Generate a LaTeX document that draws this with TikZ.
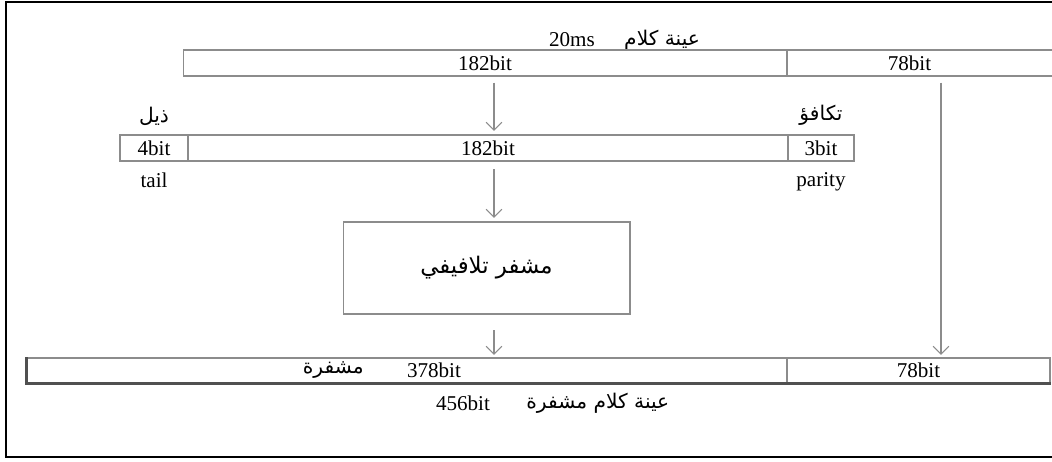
\documentclass[tikz,border=0pt]{standalone}
\usepackage{fontspec}
\setmainfont{Liberation Serif}
\newfontfamily\arabicfont[Script=Arabic]{DejaVu Sans}
\TeXXeTstate=1
\usepackage{tikz}
\usetikzlibrary{arrows.meta,positioning}
\definecolor{boxline}{HTML}{8C8C8C}
\definecolor{darkline}{HTML}{505050}

\begin{document}
\begin{tikzpicture}[x=0.02cm,y=-0.02cm,
          every node/.style={font=\fontsize{12}{14}\selectfont},
          cell/.style={draw=boxline,line width=0.6pt,inner sep=0pt,
                       minimum height=0.52cm},
          artext/.style={font=\arabicfont\fontsize{11.5}{13}\selectfont,inner sep=1pt},
          flow/.style={draw=boxline,line width=0.6pt,
                       -{Straight Barb[length=4.5pt,width=9pt]}},
      ]
        \clip (0,0) rectangle (1052,462);
        \draw[line width=0.8pt] (6,2) rectangle (1070,457);

        % 20ms speech sample
        \node (hdms) at (572,40) {20ms};
        \node[artext,right=12pt of hdms] (hdar) {\beginR عينة كلام\endR};
        \node[cell,minimum width=12.08cm] (top182) at (485,63) {182bit};
        \node[cell,minimum width=5.46cm] (top78) at (923.5,63) {\hspace*{-16pt}78bit};

        % with tail and parity bits
        \node[cell,minimum width=1.36cm] (mid4) at (154,148) {4bit};
        \node[cell,minimum width=12cm] (mid182) at (488,148) {182bit};
        \node[cell,minimum width=1.32cm] (mid3) at (821,148) {3bit};
        \node[artext,above=4pt of mid4] (tailar) {\beginR ذيل\endR};
        \node[below=3pt of mid4] (tail) {tail};
        \node[artext,above=4pt of mid3] (parar) {\beginR تكافؤ\endR};
        \node[below=3pt of mid3] (parity) {parity};

        % convolutional encoder
        \node[cell,minimum width=5.74cm,minimum height=1.84cm] (enc) at (486.5,268)
          {\arabicfont\fontsize{13}{15}\selectfont\beginR مشفر تلافيفي\endR};

        % 456bit coded sample
        \node[cell,minimum width=15.2cm,minimum height=0.5cm] (bot378) at (407,370.5) {};
        \node[cell,minimum width=5.26cm,minimum height=0.5cm] (bot78) at (918.5,370.5) {78bit};
        \draw[darkline,line width=1.2pt] (bot378.north west) -- (bot378.south west)
          -- (bot78.south east);
        \node (t378) at (434,370) {378bit};
        \node[artext,left=20pt of t378] (codar) {\beginR مشفرة\endR};
        \node (t456) at (463,403) {456bit};
        \node[artext,right=16pt of t456] (capar) {\beginR عينة كلام مشفرة\endR};

        \coordinate (col) at (494,0);
        \coordinate (colr) at (941,0);
        \draw[flow,shorten <=3.5pt,shorten >=2pt] (top182.south -| col) -- (mid182.north -| col);
        \draw[flow,shorten <=4.5pt,shorten >=2pt] (mid182.south -| col) -- (enc.north -| col);
        \draw[flow,shorten <=9pt,shorten >=1.5pt] (enc.south -| col) -- (bot378.north -| col);
        \draw[flow,shorten <=3.5pt,shorten >=1.5pt] (top78.south -| colr) -- (bot78.north -| colr);
      \end{tikzpicture}
\end{document}
